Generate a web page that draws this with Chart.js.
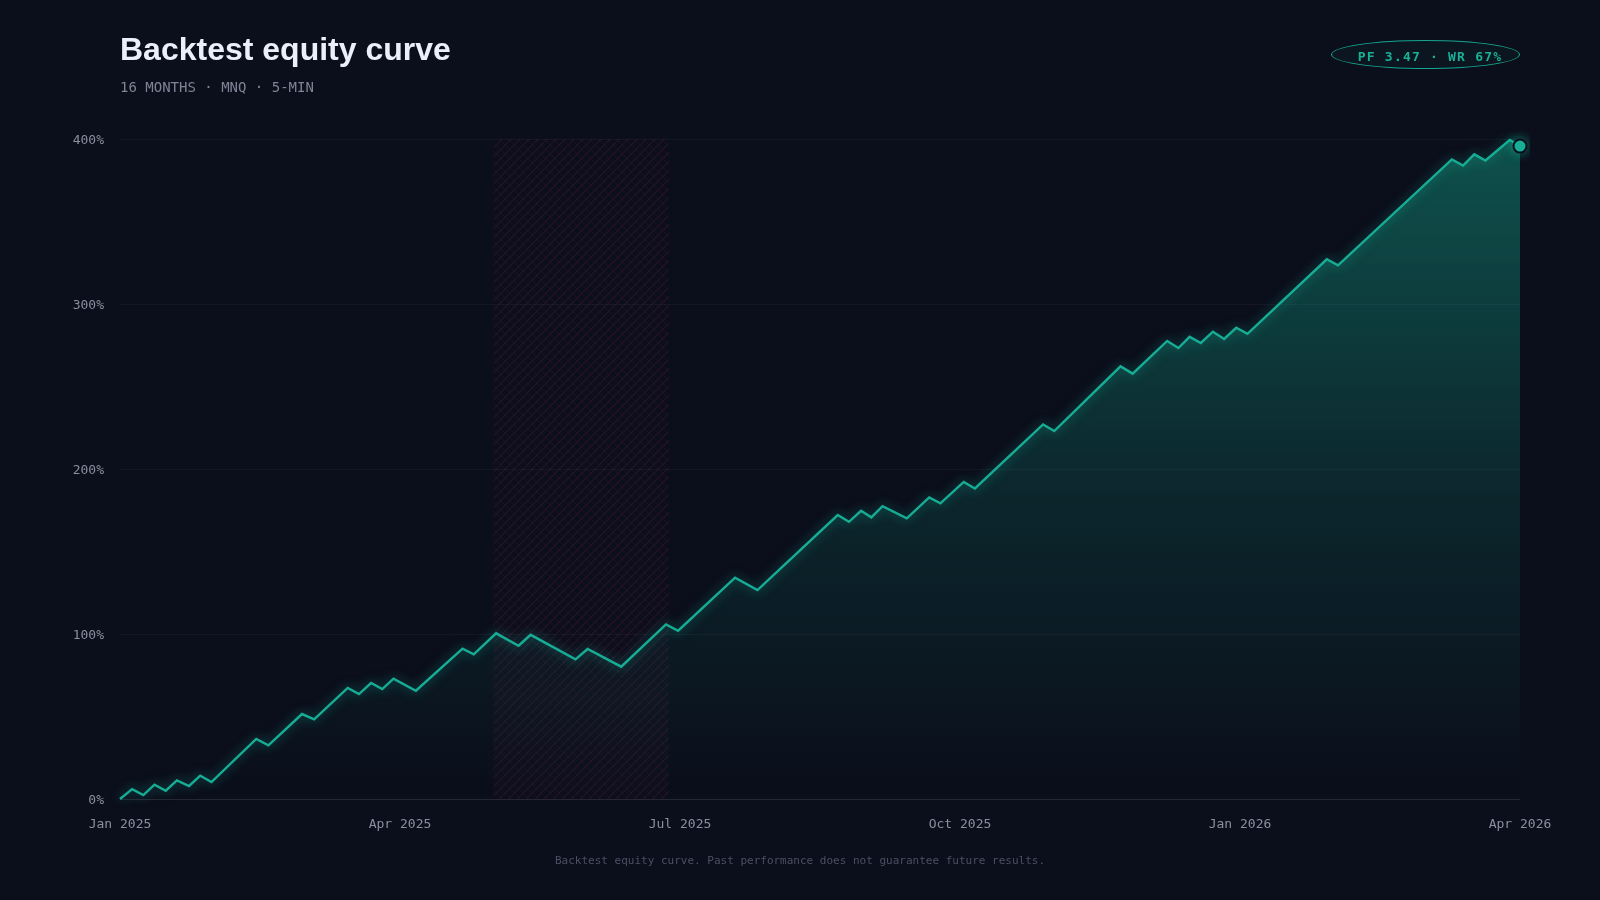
<!DOCTYPE html>
<html>
<head>
<meta charset="utf-8">
<script src="https://cdn.jsdelivr.net/npm/chart.js@4.4.1/dist/chart.umd.min.js"></script>
<style>
  html, body { margin: 0; padding: 0; background: #0b0e1b; }
  #wrap { position: relative; width: 1600px; height: 900px; overflow: hidden; background: #0b0e1b; }
  #chart { position: absolute; left: 0; top: 0; }
  .title { position: absolute; left: 120px; top: 31px; font: bold 32px "Liberation Sans", Arial, sans-serif; color: #eceefa; }
  .sub { position: absolute; left: 120px; top: 79px; font: 14px "DejaVu Sans Mono", monospace; color: #7f8496; }
  .badge { position: absolute; left: 1331px; top: 40px; width: 189px; height: 29px; box-sizing: border-box;
           border: 1px solid #16a58d; border-radius: 50%; background: rgba(20,170,140,0.05);
           font: bold 13px "DejaVu Sans Mono", monospace; color: #19b096; letter-spacing: 1.2px;
           display: flex; align-items: center; justify-content: center; padding: 3px 0 0 9px; }
  .foot { position: absolute; left: 0; width: 1600px; top: 854px; text-align: center;
          font: 11px "DejaVu Sans Mono", monospace; color: #4b5064; }
</style>
</head>
<body>
<div id="wrap">
  <canvas id="chart" width="1600" height="900"></canvas>
  <div class="title">Backtest equity curve</div>
  <div class="sub">16 MONTHS · MNQ · 5-MIN</div>
  <div class="badge">PF 3.47 · WR 67%</div>
  <div class="foot">Backtest equity curve. Past performance does not guarantee future results.</div>
</div>
<script>
// x position in months since Jan 2025
const months = [
  0.00, 0.13, 0.25, 0.37, 0.49, 0.61, 0.74, 0.86, 0.98, 1.46,
  1.59, 1.95, 2.08, 2.44, 2.56, 2.69, 2.81, 2.93, 3.17, 3.67,
  3.79, 4.03, 4.27, 4.40, 4.88, 5.01, 5.37, 5.85, 5.98, 6.59,
  6.83, 7.69, 7.81, 7.94, 8.05, 8.17, 8.43, 8.67, 8.79, 9.04,
  9.16, 9.89, 10.01, 10.72, 10.85, 11.22, 11.34, 11.46, 11.58, 11.71,
  11.83, 11.96, 12.08, 12.93, 13.05, 14.27, 14.39, 14.51, 14.63, 14.89,
  15.00
];
// equity return in %
const equity = [
  0, 6.0, 2.4, 8.7, 5.0, 11.3, 7.9, 14.1, 10.3, 36.4,
  32.5, 51.5, 48.3, 67.3, 63.6, 70.3, 66.6, 72.9, 65.6, 91.1,
  87.7, 100.4, 92.9, 99.5, 84.6, 90.9, 80.2, 105.8, 102.0, 134.1,
  126.6, 172.1, 168.0, 174.7, 170.7, 177.5, 170.1, 182.8, 179.2, 192.2,
  188.2, 227.0, 223.0, 262.2, 257.8, 277.6, 273.3, 280.1, 276.4, 283.2,
  278.8, 285.6, 281.9, 327.1, 323.4, 387.6, 383.9, 390.7, 387.0, 399.4,
  395.7
];
const monthLabels = ['Jan 2025', 'Apr 2025', 'Jul 2025', 'Oct 2025', 'Jan 2026', 'Apr 2026'];
const yTicks = [0, 100, 200, 300, 400];
// drawdown period (months)
const drawdown = [4.0, 5.88];

const teal = '#17ad95';

// hatched drawdown band
const hatchPlugin = {
  id: 'hatch',
  beforeDatasetsDraw(chart) {
    const { ctx, chartArea, scales } = chart;
    const x0 = scales.x.getPixelForValue(drawdown[0]);
    const x1 = scales.x.getPixelForValue(drawdown[1]);
    const top = chartArea.top, bottom = chartArea.bottom;
    ctx.save();
    ctx.beginPath();
    ctx.rect(x0, top, x1 - x0, bottom - top);
    ctx.clip();
    ctx.fillStyle = 'rgba(170,50,100,0.015)';
    ctx.fillRect(x0, top, x1 - x0, bottom - top);
    ctx.lineWidth = 1;
    const h = bottom - top;
    ctx.strokeStyle = 'rgba(200,60,115,0.2)';
    for (let s = x0 - h; s < x1 + h; s += 9) {
      ctx.beginPath();
      ctx.moveTo(s, bottom);
      ctx.lineTo(s + h, top);
      ctx.stroke();
    }
    ctx.strokeStyle = 'rgba(200,60,115,0.08)';
    for (let s = x0 - h; s < x1 + h; s += 9) {
      ctx.beginPath();
      ctx.moveTo(s, top);
      ctx.lineTo(s + h, bottom);
      ctx.stroke();
    }
    ctx.restore();
  }
};

// glow on the line
const glowPlugin = {
  id: 'glow',
  beforeDatasetDraw(chart) {
    chart.ctx.save();
    chart.ctx.shadowColor = 'rgba(23,190,160,0.6)';
    chart.ctx.shadowBlur = 11;
  },
  afterDatasetDraw(chart) {
    chart.ctx.restore();
  }
};

const ctx = document.getElementById('chart').getContext('2d');
const last = equity.length - 1;

new Chart(ctx, {
  type: 'line',
  data: {
    datasets: [{
      data: months.map((m, i) => ({ x: m, y: equity[i] })),
      borderColor: teal,
      borderWidth: 2.4,
      tension: 0,
      fill: 'origin',
      backgroundColor: (c) => {
        const area = c.chart.chartArea;
        if (!area) return 'rgba(20,170,140,0.2)';
        const g = c.chart.ctx.createLinearGradient(0, area.top, 0, area.bottom);
        g.addColorStop(0, 'rgba(20,175,145,0.42)');
        g.addColorStop(0.55, 'rgba(20,175,145,0.15)');
        g.addColorStop(1, 'rgba(20,175,145,0.0)');
        return g;
      },
      pointRadius: (c) => c.dataIndex === last ? 6.5 : 0,
      pointBackgroundColor: teal,
      pointBorderColor: '#0b0e1b',
      pointBorderWidth: 2,
      clip: 10
    }]
  },
  options: {
    responsive: false,
    animation: false,
    layout: { padding: { top: 139, right: 80, left: 0, bottom: 0 } },
    plugins: {
      legend: { display: false },
      tooltip: { enabled: false }
    },
    scales: {
      x: {
        type: 'linear',
        min: 0,
        max: 15,
        afterFit: (s) => { s.height = 101; },
        grid: { display: false, drawTicks: false },
        border: { display: false },
        afterBuildTicks: (s) => { s.ticks = monthLabels.map((_, i) => ({ value: i * 3 })); },
        ticks: {
          padding: 18,
          maxRotation: 0,
          autoSkip: false,
          color: '#8a8fa0',
          font: { family: 'DejaVu Sans Mono', size: 13 },
          callback: (v) => monthLabels[Math.round(v / 3)]
        }
      },
      y: {
        min: 0,
        max: 400,
        afterFit: (s) => { s.width = 120; },
        afterBuildTicks: (s) => { s.ticks = yTicks.map(v => ({ value: v })); },
        grid: {
          drawTicks: false,
          color: (c) => c.tick.value === 0 ? 'rgba(255,255,255,0.11)' : 'rgba(255,255,255,0.04)',
          lineWidth: 1
        },
        border: { display: false },
        ticks: {
          padding: 16,
          labelOffset: 2,
          color: '#8a8fa0',
          font: { family: 'DejaVu Sans Mono', size: 13 },
          callback: (v) => v + '%'
        }
      }
    }
  },
  plugins: [hatchPlugin, glowPlugin]
});
</script>
</body>
</html>
